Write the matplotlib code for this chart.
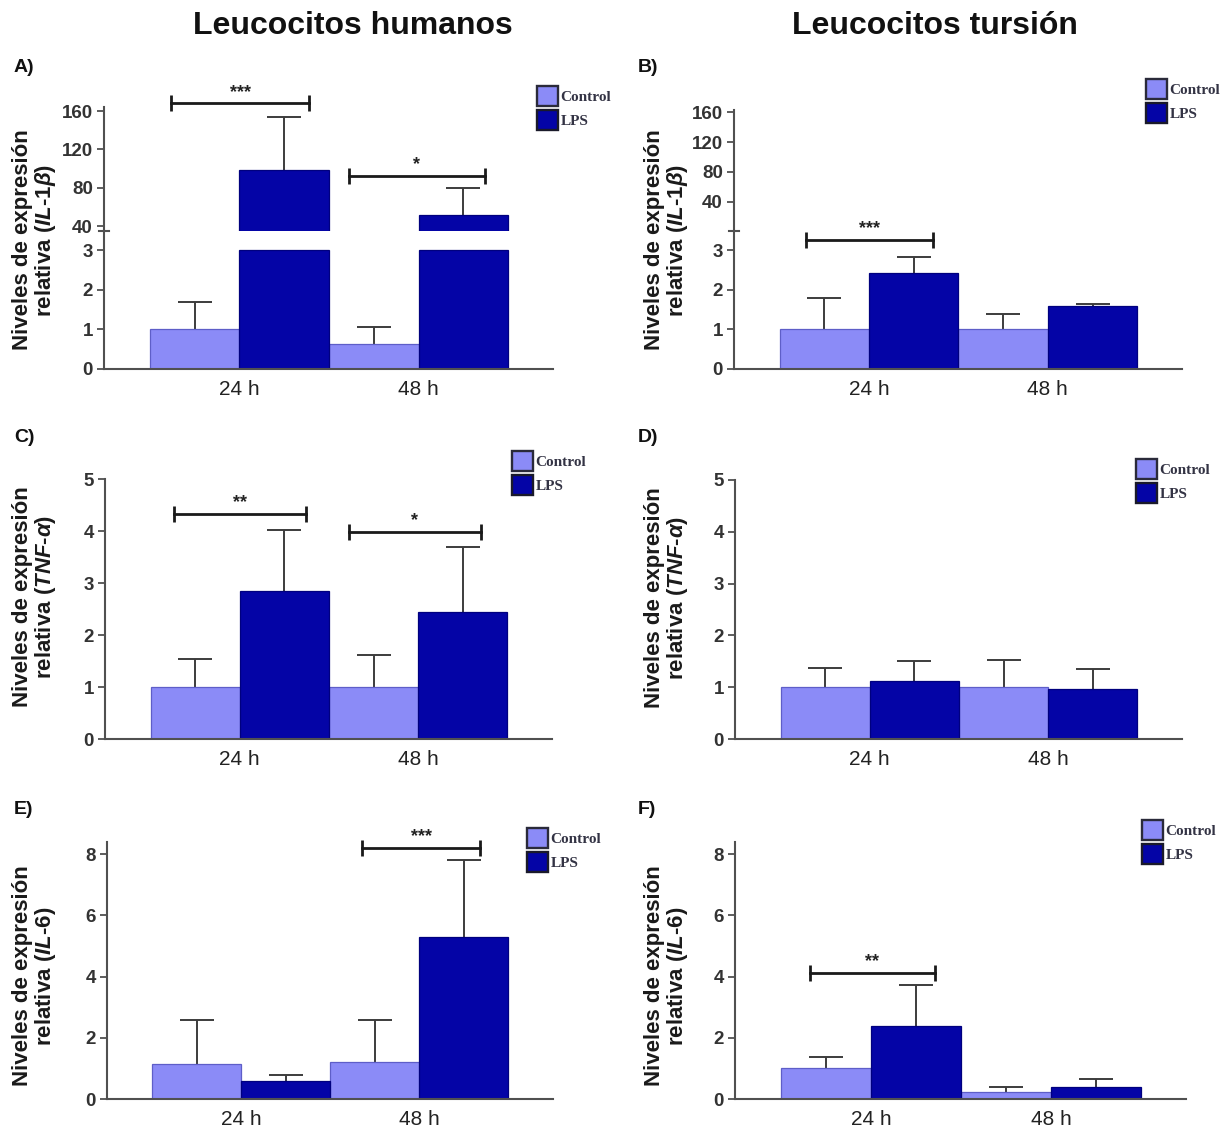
import matplotlib
matplotlib.use('Agg')
import matplotlib.pyplot as plt
from matplotlib.patches import Patch
from matplotlib.lines import Line2D
import numpy as np

plt.rcParams['font.family'] = ['Liberation Sans', 'DejaVu Sans']
plt.rcParams['mathtext.fontset'] = 'custom'
plt.rcParams['mathtext.it'] = 'Liberation Sans:italic:bold'
plt.rcParams['mathtext.rm'] = 'Liberation Sans:bold'
plt.rcParams['mathtext.bf'] = 'Liberation Sans:bold'

# ---------------- data ----------------
times = ['24 h', '48 h']
groups = ['Control', 'LPS']
col_titles = ['Leucocitos humanos', 'Leucocitos tursión']
panel_letters = ['A)', 'B)', 'C)', 'D)', 'E)', 'F)']
genes = ['IL-1β', 'IL-1β', 'TNF-α', 'TNF-α', 'IL-6', 'IL-6']

# A: IL-1beta, human
A_control = [1.0, 0.63]
A_control_err = [0.68, 0.44]
A_lps = [98.0, 51.0]
A_lps_err = [56.0, 29.0]
A_sig = [(-0.38, 0.39, 168.0, '***'), (0.61, 1.37, 92.0, '*')]

# B: IL-1beta, dolphin
B_control = [1.0, 1.0]
B_control_err = [0.78, 0.38]
B_lps = [2.41, 1.59]
B_lps_err = [0.42, 0.05]
B_sig = [(-0.35, 0.36, 3.25, '***')]

# C: TNF-alpha, human
C_control = [1.0, 1.0]
C_control_err = [0.54, 0.61]
C_lps = [2.84, 2.44]
C_lps_err = [1.17, 1.25]
C_sig = [(-0.37, 0.37, 4.33, '**'), (0.61, 1.35, 3.98, '*')]

# D: TNF-alpha, dolphin
D_control = [1.0, 1.0]
D_control_err = [0.38, 0.52]
D_lps = [1.12, 0.96]
D_lps_err = [0.39, 0.39]
D_sig = []

# E: IL-6, human
E_control = [1.16, 1.20]
E_control_err = [1.41, 1.37]
E_lps = [0.59, 5.28]
E_lps_err = [0.20, 2.52]
E_sig = [(0.68, 1.34, 8.21, '***')]

# F: IL-6, dolphin
F_control = [1.0, 0.22]
F_control_err = [0.38, 0.18]
F_lps = [2.38, 0.40]
F_lps_err = [1.36, 0.24]
F_sig = [(-0.34, 0.355, 4.12, '**')]

BREAK = 3  # lower segment top of the broken IL-1beta axes

# ---------------- style ----------------
C_CTRL = '#8b8bf7'
C_LPS = '#0404a6'
E_CTRL = '#5e5ec8'
E_LPS = '#00007e'
SPINE = '#505050'
ERRC = '#3c3c3c'

W, H = 1225, 1129
fig = plt.figure(figsize=(W / 100, H / 100), dpi=100)


def px_axes(left, right, top, bottom):
    return fig.add_axes([left / W, 1 - bottom / H, (right - left) / W, (bottom - top) / H])


def style(ax, xaxis=True):
    for s in ['top', 'right']:
        ax.spines[s].set_visible(False)
    ax.spines['left'].set_color(SPINE)
    ax.spines['left'].set_linewidth(1.5)
    ax.spines['bottom'].set_color(SPINE)
    ax.spines['bottom'].set_linewidth(1.5)
    ax.tick_params(axis='y', length=5, width=1.3, color=SPINE, pad=3,
                   labelsize=13.5, labelcolor='#333333')
    for lab in ax.get_yticklabels():
        lab.set_fontweight('bold')
    ax.set_xlim(-0.755, 1.75)
    if xaxis:
        ax.set_xticks([0, 1])
        ax.set_xticklabels(times, fontsize=15, color='#222222')
        ax.tick_params(axis='x', length=0, pad=8)
    else:
        ax.spines['bottom'].set_visible(False)
        ax.set_xticks([])


def _series(ax, xs, vals, errs, fc, ec, part, cap):
    vals = np.array(vals, float)
    errs = np.array(errs, float)
    if part == 'top':
        keep = vals > cap
    elif part == 'bottom':
        keep = vals <= cap
    else:
        keep = np.ones(len(vals), bool)
    heights = vals if part != 'bottom' else np.minimum(vals, cap)
    ax.bar(xs, heights, 0.5, color=fc, edgecolor=ec, linewidth=0.9, zorder=2)
    if keep.any():
        eb = ax.errorbar(xs[keep], vals[keep], yerr=[np.zeros(keep.sum()), errs[keep]],
                         fmt='none', ecolor=ERRC, elinewidth=1.4, capsize=12,
                         capthick=1.4, zorder=1)
        eb[1][0].set_visible(False)  # hide the lower (zero-length) cap


def draw_bars(ax, ctrl, ctrl_err, lps, lps_err, part='all', cap=None):
    x = np.arange(len(times), dtype=float)
    w = 0.5
    if part == 'top':
        # only the bars exceeding the break reach the upper segment
        for xs, v, e, fc, ec in [(x - w / 2, ctrl, ctrl_err, C_CTRL, E_CTRL),
                                 (x + w / 2, lps, lps_err, C_LPS, E_LPS)]:
            v = np.array(v, float)
            e = np.array(e, float)
            k = v > cap
            if k.any():
                _series(ax, xs[k], v[k], e[k], fc, ec, 'all', cap)
        return
    _series(ax, x - w / 2, ctrl, ctrl_err, C_CTRL, E_CTRL, part, cap)
    _series(ax, x + w / 2, lps, lps_err, C_LPS, E_LPS, part, cap)


def draw_sig(ax, sigs):
    for x0, x1, y, lab in sigs:
        ax.plot([x0, x1], [y, y], color='#1a1a1a', lw=2.0, clip_on=False, zorder=5,
                marker='|', markersize=12, markeredgewidth=2.0)
        ax.annotate(lab, (0.5 * (x0 + x1), y), xytext=(0, 2), textcoords='offset points',
                    ha='center', va='bottom', fontsize=13, fontweight='bold',
                    color='#222222', annotation_clip=False)


def legend(ax, x, y):
    handles = [Patch(facecolor=C_CTRL, edgecolor='#2a2a3a', linewidth=1.7),
               Patch(facecolor=C_LPS, edgecolor='#1a1a2a', linewidth=1.7)]
    ax.legend(handles, groups, loc='upper left', bbox_to_anchor=(x / W, 1 - y / H),
              bbox_transform=fig.transFigure, frameon=False, borderpad=0,
              borderaxespad=0, handlelength=1.4, handleheight=1.6,
              handletextpad=0.15, labelspacing=0.3,
              prop={'family': 'Liberation Serif', 'weight': 'bold', 'size': 11},
              labelcolor='#333344')


def ylabel(x, y, gene):
    parts = gene.split('-')
    g = '$\\mathit{' + parts[0] + '}$-$\\mathit{' + parts[1] + '}$'
    fig.text(x / W, 1 - y / H, 'Niveles de expresión\nrelativa (' + g + ')',
             rotation=90, ha='center', va='center', fontsize=16, fontweight='bold',
             linespacing=0.95, color='#1a1a1a', multialignment='center')


def break_mark(xpx, ypx):
    fig.add_artist(Line2D([(xpx - 5) / W, (xpx + 5) / W], [1 - ypx / H, 1 - ypx / H],
                          transform=fig.transFigure, color=SPINE, lw=1.5))


# ---------------- titles / letters ----------------
fig.text(353 / W, 1 - 26 / H, col_titles[0], ha='center', va='center',
         fontsize=23, fontweight='bold', color='#111111')
fig.text(935 / W, 1 - 26 / H, col_titles[1], ha='center', va='center',
         fontsize=23, fontweight='bold', color='#111111')
letter_pos = [(14, 67), (638, 68), (14, 438), (638, 438), (14, 810), (638, 809)]
for (lx, ly), lt in zip(letter_pos, panel_letters):
    fig.text(lx / W, 1 - ly / H, lt, ha='left', va='center', fontsize=14,
             fontweight='bold', color='#111111')

# ---------------- Panel A (broken axis) ----------------
axA_top = px_axes(104, 553, 107, 231)
axA_bot = px_axes(104, 553, 231, 369)
draw_bars(axA_top, A_control, A_control_err, A_lps, A_lps_err, part='top', cap=BREAK)
axA_top.set_ylim(34.8, 164.3)
axA_top.set_yticks([40, 80, 120, 160])
style(axA_top, xaxis=False)
draw_bars(axA_bot, A_control, A_control_err, A_lps, A_lps_err, part='bottom', cap=BREAK)
axA_bot.set_ylim(0, 3.48)
axA_bot.set_yticks([0, 1, 2, 3])
style(axA_bot)
draw_sig(axA_top, A_sig)
legend(axA_top, 537, 86)
ylabel(35, 240, genes[0])
break_mark(104, 231)

# ---------------- Panel B (broken axis) ----------------
axB_top = px_axes(734, 1182, 110, 231)
axB_bot = px_axes(734, 1182, 231, 369)
draw_bars(axB_top, B_control, B_control_err, B_lps, B_lps_err, part='top', cap=BREAK)
axB_top.set_ylim(1.3, 162.7)
axB_top.set_yticks([40, 80, 120, 160])
style(axB_top, xaxis=False)
draw_bars(axB_bot, B_control, B_control_err, B_lps, B_lps_err, part='bottom', cap=BREAK)
axB_bot.set_ylim(0, 3.48)
axB_bot.set_yticks([0, 1, 2, 3])
style(axB_bot)
draw_sig(axB_bot, B_sig)
legend(axB_top, 1146, 79)
ylabel(667, 240, genes[1])
break_mark(734, 231)

# ---------------- Panel C ----------------
axC = px_axes(105, 552, 479, 739)
draw_bars(axC, C_control, C_control_err, C_lps, C_lps_err)
axC.set_ylim(0, 5)
axC.set_yticks([0, 1, 2, 3, 4, 5])
style(axC)
draw_sig(axC, C_sig)
legend(axC, 512, 451)
ylabel(35, 597, genes[2])

# ---------------- Panel D ----------------
axD = px_axes(735, 1182, 480, 739)
draw_bars(axD, D_control, D_control_err, D_lps, D_lps_err)
axD.set_ylim(0, 5)
axD.set_yticks([0, 1, 2, 3, 4, 5])
style(axD)
draw_sig(axD, D_sig)
legend(axD, 1136, 459)
ylabel(667, 598, genes[3])

# ---------------- Panel E ----------------
axE = px_axes(107, 553, 842, 1099)
draw_bars(axE, E_control, E_control_err, E_lps, E_lps_err)
axE.set_ylim(0, 8.4)
axE.set_yticks([0, 2, 4, 6, 8])
style(axE)
draw_sig(axE, E_sig)
legend(axE, 527, 828)
ylabel(35, 976, genes[4])

# ---------------- Panel F ----------------
axF = px_axes(735, 1186, 842, 1099)
draw_bars(axF, F_control, F_control_err, F_lps, F_lps_err)
axF.set_ylim(0, 8.4)
axF.set_yticks([0, 2, 4, 6, 8])
style(axF)
draw_sig(axF, F_sig)
legend(axF, 1142, 820)
ylabel(667, 976, genes[5])

fig.savefig('out.png', dpi=100)
